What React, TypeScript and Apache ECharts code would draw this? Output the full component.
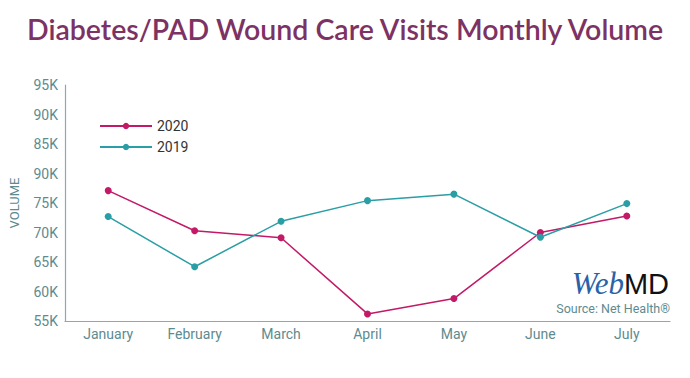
import React, { useEffect, useRef } from "react";
import * as echarts from "echarts";

const months = ["January", "February", "March", "April", "May", "June", "July"];
const values2020 = [77.1, 70.3, 69.1, 56.2, 58.8, 70.0, 72.8];
const values2019 = [72.7, 64.2, 71.9, 75.4, 76.5, 69.2, 74.9];
// tick labels bottom-up, as printed in the original (incl. its "90K" typo)
const yTickLabels = ["55K", "60K", "65K", "70K", "75K", "90K", "85K", "90K", "95K"];

const PINK = "#c21a66";
const TEAL = "#2a9ea5";
const AXIS_TEXT = "#5d8b90";

export default function App() {
  const ref = useRef<HTMLDivElement>(null);
  useEffect(() => {
    document.body.style.margin = "0";
    const chart = echarts.init(ref.current!, undefined, { renderer: "svg" });
    chart.setOption({
      animation: false,
      backgroundColor: "#ffffff",
      title: {
        text: "Diabetes/PAD Wound Care Visits Monthly Volume",
        left: 22,
        top: 9,
        textStyle: {
          color: "#7d3264",
          fontFamily: "Lato",
          fontWeight: 600,
          fontSize: 28.5,
        },
      },
      legend: {
        orient: "vertical",
        left: 94,
        top: 114,
        itemWidth: 52,
        itemHeight: 8,
        itemGap: 7,
        data: ["2020", "2019"],
        textStyle: { color: "#333", fontFamily: "Roboto", fontSize: 14 },
      },
      grid: { left: 62, right: 20, top: 85, bottom: 57 },
      xAxis: {
        type: "category",
        data: months,
        boundaryGap: true,
        axisLine: { lineStyle: { color: "#8fa8ab", width: 1.2 } },
        axisTick: { show: false },
        axisLabel: { color: AXIS_TEXT, fontFamily: "Roboto", fontSize: 14, margin: 6 },
      },
      yAxis: {
        type: "value",
        min: 55,
        max: 95,
        interval: 5,
        name: "VOLUME",
        nameLocation: "middle",
        nameGap: 44,
        nameTextStyle: { color: AXIS_TEXT, fontFamily: "Roboto", fontSize: 13 },
        splitLine: { show: false },
        axisLine: { show: true, lineStyle: { color: "#8fa8ab", width: 1.2 } },
        axisTick: { show: false },
        axisLabel: {
          color: AXIS_TEXT,
          fontFamily: "Roboto",
          fontSize: 14,
          margin: 7,
          formatter: (_v: number, i: number) => yTickLabels[i],
        },
      },
      series: [
        {
          name: "2020",
          type: "line",
          data: values2020,
          symbol: "circle",
          symbolSize: 7,
          lineStyle: { color: PINK, width: 1.5 },
          itemStyle: { color: PINK },
        },
        {
          name: "2019",
          type: "line",
          data: values2019,
          symbol: "circle",
          symbolSize: 7,
          lineStyle: { color: TEAL, width: 1.5 },
          itemStyle: { color: TEAL },
        },
      ],
      graphic: [
        {
          type: "text",
          right: 21,
          top: 268,
          style: {
            text: "{web|Web}{md|MD}",
            rich: {
              web: {
                fontFamily: "Liberation Serif",
                fontStyle: "italic",
                fontSize: 31,
                fill: "#2a62a8",
              },
              md: {
                fontFamily: "Liberation Sans",
                fontSize: 29,
                fill: "#111",
              },
            },
          },
        },
        {
          type: "text",
          right: 20,
          top: 302,
          style: {
            text: "Source: Net Health\u00ae",
            fontFamily: "Roboto",
            fontSize: 12.5,
            fill: AXIS_TEXT,
          },
        },
      ],
    });
    return () => chart.dispose();
  }, []);
  return <div ref={ref} style={{ width: 690, height: 378 }} />;
}
